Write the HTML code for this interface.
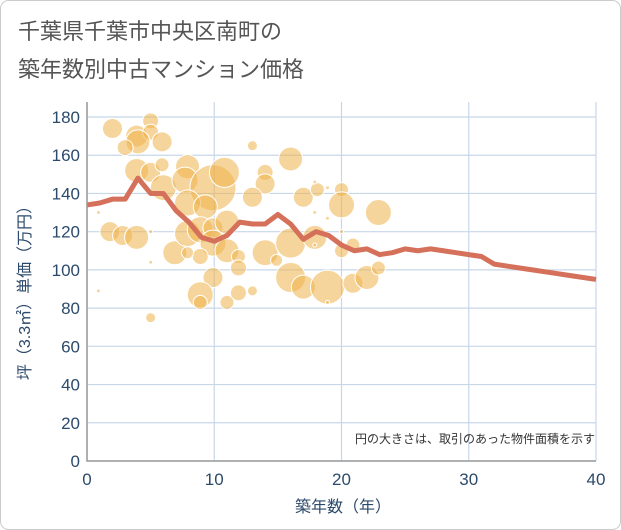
<!DOCTYPE html>
<html><head><meta charset="utf-8"><style>
body{margin:0;background:#fff;font-family:"Liberation Sans","Noto Sans CJK JP",sans-serif;}
#wrap{position:relative;width:621px;height:530px;overflow:hidden;}
</style></head><body>
<div id="wrap">
<svg id="chart" width="621" height="530">
<rect x="0.5" y="0.5" width="620" height="529" rx="8" fill="#fff" stroke="#ccc"/>
<text x="18" y="39" font-size="22" fill="#555" font-family="Liberation Sans, Noto Sans CJK JP, sans-serif">千葉県千葉市中央区南町の</text>
<text x="18" y="77" font-size="22" fill="#555" font-family="Liberation Sans, Noto Sans CJK JP, sans-serif">築年数別中古マンション価格</text>
<g id="grid"></g><g id="bubbles"></g><g id="line"></g><g id="axes"></g>
<text x="595" y="443" font-size="12" fill="#333" text-anchor="end" font-family="Liberation Sans, Noto Sans CJK JP, sans-serif">円の大きさは、取引のあった物件面積を示す</text>
<text x="343" y="512" font-size="16" fill="#2c4a6b" text-anchor="middle" font-family="Liberation Sans, Noto Sans CJK JP, sans-serif">築年数（年）</text>
<text transform="translate(30,289) rotate(-90)" font-size="16" fill="#2c4a6b" text-anchor="middle" font-family="Liberation Sans, Noto Sans CJK JP, sans-serif">坪（3.3㎡）単価（万円）</text>
</svg></div>
<script>
const xTicks=[0,10,20,30,40];
const yTicks=[0,20,40,60,80,100,120,140,160,180];
const bubbleYears=[2.0,3.9,5.0,5.0,4.0,3.0,5.9,13.0,3.9,5.0,5.9,7.9,6.0,7.7,9.9,10.8,7.9,9.3,14.0,14.0,13.0,16.0,17.0,18.1,20.0,20.0,22.9,1.8,2.8,3.9,6.9,7.9,8.9,9.9,11.0,9.9,11.0,8.9,7.9,11.9,14.0,14.9,16.0,17.9,20.0,20.9,11.9,9.9,8.9,8.9,11.0,11.9,13.0,16.0,17.0,18.9,18.9,20.9,22.0,22.9,5.0,0.9,0.9,5.0,5.0,17.9,18.9,17.9,18.9,20.0,17.9];
const bubblePrices=[174,170,178,172,167,164,167,165,152,151,155,154,143,147,143,151,135,133,151,145,138,158,138,142,142,134,130,120,118,117,109,119,121,122,125,114,110,107,109,107,109,105,114,117,110,113,101,96,87,83,83,88,89,96,91,91,83,93,96,101,75,130,89,104,120,146,143,130,127,120,113];
const bubbleSizes=[100,121,64,64,144,64,100,25,144,100,49,144,169,169,529,225,169,144,64,100,100,144,100,49,49,169,169,100,100,144,144,169,169,100,144,169,144,64,36,49,169,36,225,144,49,49,64,100,169,49,49,64,25,225,144,289,4,100,144,49,25,4,4,4,4,4,4,4,4,4,4];
const lineYears=[0,1,2,3,4,5,6,7,8,9,10,11,12,13,14,15,16,17,18,19,20,21,22,23,24,25,26,27,28,29,30,31,32,33,34,35,36,37,38,39,40];
const linePrices=[134,135,137,137,148,140,140,131,125,117,115,118,125,124,124,129,124,116,120,118,113,110,111,108,109,111,110,111,110,109,108,107,103,102,101,100,99,98,97,96,95];
const X0=87,X1=596,Y0=461,Y1=117;
const xs=v=>X0+(X1-X0)*v/40, ys=v=>Y0-(Y0-Y1)*v/180;
const NS="http://www.w3.org/2000/svg";
function mk(t,p,parent){const e=document.createElementNS(NS,t);for(const k in p)e.setAttribute(k,p[k]);document.getElementById(parent).appendChild(e);return e;}
yTicks.forEach(v=>{
 const l=mk('line',{x1:X0,x2:X1,y1:ys(v),y2:ys(v),stroke:'#c8d7e8','stroke-width':1.2},'grid');
 
 
 const t=mk('text',{x:80,y:ys(v)+6,'font-size':17,fill:'#2c4a6b','text-anchor':'end'},'axes');
 t.textContent=v;
 
 
});
xTicks.forEach(v=>{
 const l=mk('line',{x1:xs(v),x2:xs(v),y1:Y1-15,y2:Y0,stroke:'#c8d7e8','stroke-width':1.2},'grid');
 
 
 const t=mk('text',{x:xs(v),y:485,'font-size':17,fill:'#2c4a6b','text-anchor':'middle'},'axes');
 t.textContent=v;
 
 
});
const ax=mk('path',{d:`M${X0},${Y1-15}V${Y0}H${X1}`,fill:'none',stroke:'#999','stroke-width':1.5},'axes');


bubbleYears.forEach((yr,i)=>{
 const c=mk('circle',{cx:xs(yr),cy:ys(bubblePrices[i]),r:Math.sqrt(bubbleSizes[i]),fill:'#efb24a','fill-opacity':0.55,stroke:'#fff','stroke-width':1},'bubbles');
 
 
});
const d=lineYears.map((yr,i)=>(i?'L':'M')+xs(yr)+','+ys(linePrices[i])).join('');
const p=mk('path',{d:d,fill:'none',stroke:'#d5705a','stroke-width':5,'stroke-linejoin':'round'},'line');


</script>
</body></html>
